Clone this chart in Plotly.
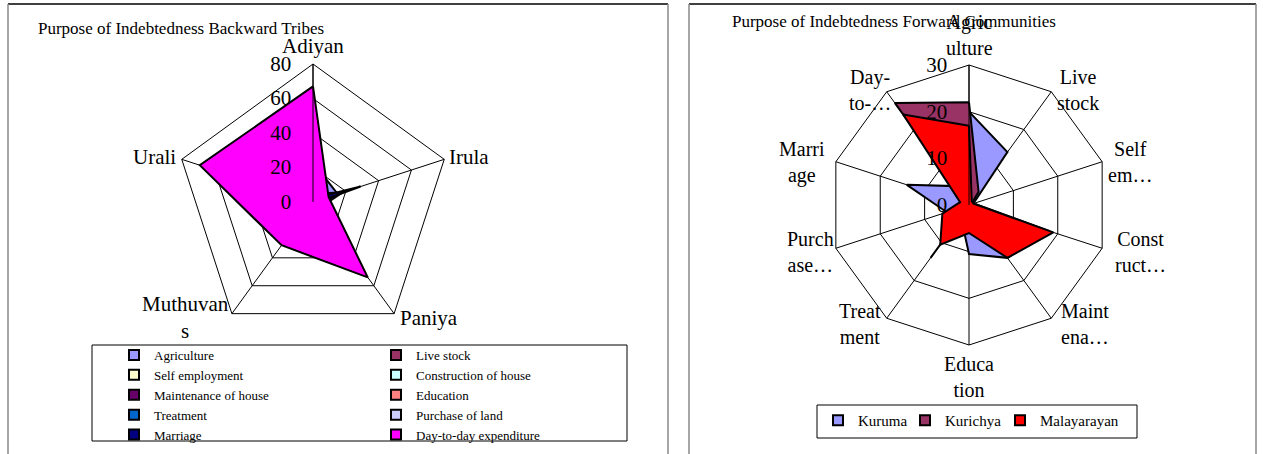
import plotly.graph_objects as go

# ---------------- data ----------------
tribes = ["Adiyan", "Irula", "Paniya", "Muthuvans", "Urali"]
tribe_labels = ["Adiyan", "Irula", "Paniya", "Muthuvan<br>s", "Urali"]

purposes = ["Agriculture", "Live stock", "Self employment", "Construction of house",
            "Maintenance of house", "Education", "Treatment", "Purchase of land",
            "Marriage", "Day-to-day expenditure"]

# values per purpose across tribes (Adiyan, Irula, Paniya, Muthuvans, Urali)
agriculture_bt = [23, 15, 3, 2, 5]
livestock_bt = [5, 4, 2, 1, 3]
selfemp_bt = [2, 6, 6, 1, 2]
construction_bt = [3, 8, 7, 2, 3]
maintenance_bt = [4, 10, 3, 1, 3]
education_bt = [2, 18, 5, 1, 2]
treatment_bt = [5, 18, 3, 2, 4]
purchase_bt = [3, 12, 2, 1, 2]
marriage_bt = [2, 29, 1, 1, 2]
daytoday_bt = [67, 9.5, 54, 31, 69]

communities = ["Kuruma", "Kurichya", "Malayarayan"]
comm_cats = ["Agriculture", "Live stock", "Self employment", "Construction of house",
             "Maintenance of house", "Education", "Treatment", "Purchase of land",
             "Marriage", "Day-to-day expenditure"]
comm_labels = ["Agric<br>ulture", "Live<br>stock", "Self<br>em…", "Const<br>ruct…",
               "Maint<br>ena…", "Educa<br>tion", "Treat<br>ment", "Purch<br>ase…",
               "Marri<br>age", "Day-<br>to-…"]
kuruma = [20, 14, 1, 18, 14, 10.5, 3, 5, 14, 5]
kurichya = [22, 3.5, 0.5, 0.5, 0, 0, 14, 0, 0, 27]
malayarayan = [17, 1, 1, 19, 14, 6, 10.5, 6, 2, 24]

left_values = [agriculture_bt, livestock_bt, selfemp_bt, construction_bt, maintenance_bt,
               education_bt, treatment_bt, purchase_bt, marriage_bt, daytoday_bt]
left_colors = ["#9999FF", "#993366", "#FFFFCC", "#CCFFFF", "#660066",
               "#FF8080", "#0066CC", "#CCCCFF", "#000080", "#FF00FF"]
right_values = [kuruma, kurichya, malayarayan]
right_colors = ["#9999FF", "#993366", "#FF0000"]

FONT = "Liberation Serif"
W, H = 1263, 454

fig = go.Figure()

for name, col, vals in zip(purposes, left_colors, left_values):
    fig.add_trace(go.Scatterpolar(
        r=vals + [vals[0]], theta=tribes + [tribes[0]],
        mode="lines", fill="toself", fillcolor=col,
        line=dict(color="black", width=2),
        name=name, subplot="polar", showlegend=False))

for name, col, vals in zip(communities, right_colors, right_values):
    fig.add_trace(go.Scatterpolar(
        r=vals + [vals[0]], theta=comm_cats + [comm_cats[0]],
        mode="lines", fill="toself", fillcolor=col,
        line=dict(color="black", width=2),
        name=name, subplot="polar2", showlegend=False))

# legend entries (square swatches like the original); left legend in two columns
for i, (name, col) in enumerate(zip(purposes, left_colors)):
    fig.add_trace(go.Scatterpolar(
        r=[None], theta=[None], mode="markers", subplot="polar",
        marker=dict(symbol="square", size=10, color=col, line=dict(color="black", width=2)),
        name=name, legend="legend" if i % 2 == 0 else "legend3"))
legend_widths = [42, 50, 90]
for name, col, lw in zip(communities, right_colors, legend_widths):
    fig.add_trace(go.Scatterpolar(
        r=[None], theta=[None], mode="markers", subplot="polar2",
        marker=dict(symbol="square", size=10, color=col, line=dict(color="black", width=2)),
        name=name, legend="legend2", legendwidth=lw))


def px_dom(cx, cy, R):
    return dict(x=[(cx - R) / W, (cx + R) / W], y=[1 - (cy + R) / H, 1 - (cy - R) / H])


common_ang = dict(direction="clockwise", rotation=90, showline=True, linecolor="black",
                  linewidth=1, gridcolor="black", gridwidth=1, ticks="", showticklabels=False)
common_rad = dict(angle=90, tickangle=90, side="counterclockwise", showline=True,
                  linecolor="black", linewidth=1, gridcolor="black", gridwidth=1,
                  ticks="outside", ticklen=14, tickcolor="rgba(0,0,0,0)",
                  tickfont=dict(family=FONT, size=21, color="black"))
leg_font = dict(family=FONT, size=13, color="black")

fig.update_layout(
    width=W, height=H, margin=dict(l=0, r=0, t=0, b=0, autoexpand=False),
    paper_bgcolor="white", plot_bgcolor="white",
    font=dict(family=FONT, color="black"),
    polar=dict(
        domain=px_dom(313, 202, 138), gridshape="linear", bgcolor="white",
        radialaxis=dict(common_rad, range=[0, 80], tickvals=[0, 20, 40, 60, 80]),
        angularaxis=dict(common_ang),
    ),
    polar2=dict(
        domain=px_dom(969, 205, 140), gridshape="linear", bgcolor="white",
        radialaxis=dict(common_rad, range=[0, 30], tickvals=[0, 10, 20, 30]),
        angularaxis=dict(common_ang),
    ),
    legend=dict(orientation="v", x=114 / W, y=1 - 340 / H, xanchor="left", yanchor="top",
                bgcolor="rgba(0,0,0,0)", font=leg_font, itemwidth=30,
                tracegroupgap=0, traceorder="normal"),
    legend3=dict(orientation="v", x=376 / W, y=1 - 340 / H, xanchor="left", yanchor="top",
                 bgcolor="rgba(0,0,0,0)", font=leg_font, itemwidth=30,
                 tracegroupgap=0, traceorder="normal"),
    legend2=dict(orientation="h", x=818 / W, y=1 - 404 / H, xanchor="left", yanchor="top",
                 bgcolor="rgba(0,0,0,0)", font=dict(family=FONT, size=15, color="black"),
                 itemwidth=30, traceorder="normal"),
)

shapes = [
    # left panel border
    dict(type="line", xref="paper", yref="paper", x0=8 / W, x1=668 / W, y0=1 - 4 / H, y1=1 - 4 / H,
         line=dict(color="black", width=1.5)),
    dict(type="line", xref="paper", yref="paper", x0=8 / W, x1=8 / W, y0=0, y1=1 - 4 / H,
         line=dict(color="#888888", width=1.5)),
    dict(type="line", xref="paper", yref="paper", x0=668 / W, x1=668 / W, y0=0, y1=1 - 4 / H,
         line=dict(color="#888888", width=1.5)),
    # right panel border
    dict(type="line", xref="paper", yref="paper", x0=689 / W, x1=1256 / W, y0=1 - 4 / H, y1=1 - 4 / H,
         line=dict(color="black", width=1.5)),
    dict(type="line", xref="paper", yref="paper", x0=689 / W, x1=689 / W, y0=0, y1=1 - 4 / H,
         line=dict(color="#888888", width=1.5)),
    dict(type="line", xref="paper", yref="paper", x0=1256 / W, x1=1256 / W, y0=0, y1=1 - 4 / H,
         line=dict(color="#888888", width=1.5)),
    # legend boxes
    dict(type="rect", xref="paper", yref="paper", x0=92 / W, x1=627 / W, y0=1 - 441 / H, y1=1 - 345 / H,
         line=dict(color="black", width=1)),
    dict(type="rect", xref="paper", yref="paper", x0=817 / W, x1=1137 / W, y0=1 - 438 / H, y1=1 - 405 / H,
         line=dict(color="black", width=1)),
]
fig.update_layout(shapes=shapes)

# category labels around the radar charts (pixel placement as in the original)
left_label_pos = [(313, 46, "center"), (447, 157, "left"), (398, 318, "left"),
                  (185, 317, "center"), (178, 157, "right")]
right_label_pos = [(969, 35), (1078, 90), (1130, 162), (1140, 252), (1085, 324),
                   (969, 377), (860, 324), (810, 252), (802, 162), (870, 90)]
for txt, (x, y, anc) in zip(tribe_labels, left_label_pos):
    fig.add_annotation(text=txt, xref="paper", yref="paper", x=x / W, y=1 - y / H,
                       xanchor=anc, yanchor="middle", showarrow=False, align="center",
                       font=dict(family=FONT, size=21, color="black"))
for txt, (x, y) in zip(comm_labels, right_label_pos):
    fig.add_annotation(text=txt, xref="paper", yref="paper", x=x / W, y=1 - y / H,
                       xanchor="center", yanchor="middle", showarrow=False, align="center",
                       font=dict(family=FONT, size=20, color="black"))

fig.add_annotation(text="Purpose of Indebtedness Backward Tribes", xref="paper", yref="paper",
                   x=36 / W, y=1 - 29 / H, xanchor="left", yanchor="middle", showarrow=False,
                   font=dict(family=FONT, size=17, color="black"))
fig.add_annotation(text="Purpose of Indebtedness Forward Communities", xref="paper", yref="paper",
                   x=730 / W, y=1 - 21 / H, xanchor="left", yanchor="middle", showarrow=False,
                   font=dict(family=FONT, size=17, color="black"))

fig.write_html("out.html", config={"displayModeBar": False},
               post_script="document.body.style.margin='0';document.body.style.overflow='hidden';")
